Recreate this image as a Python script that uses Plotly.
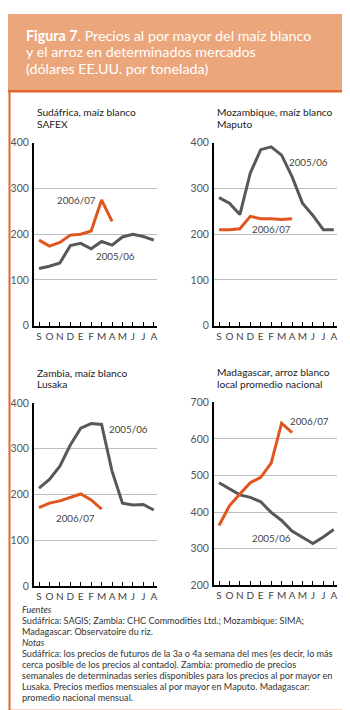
import plotly.graph_objects as go

# month ticks (Sept to Aug)
months = ["S", "O", "N", "D", "E", "F", "M", "A", "M", "J", "J", "A"]

# Sudáfrica, maíz blanco SAFEX
sa_0506 = [125, 130, 137, 175, 180, 168, 184, 176, 194, 200, 195, 187]
sa_0607 = [187, 174, 182, 198, 200, 207, 275, 228]

# Mozambique, maíz blanco Maputo
mz_0506 = [280, 268, 243, 334, 385, 391, 373, 326, 268, 241, 210, 210]
mz_0607 = [210, 210, 212, 239, 234, 234, 232, 234]

# Zambia, maíz blanco Lusaka
zm_0506 = [214, 233, 262, 308, 345, 355, 353, 251, 181, 177, 178, 166]
zm_0607 = [171, 181, 186, 194, 201, 188, 168]

# Madagascar, arroz blanco local promedio nacional
mg_0506 = [480, 464, 447, 440, 428, 399, 377, 348, 332, 314, 332, 352]
mg_0607 = [363, 417, 449, 480, 495, 534, 643, 617]

W, H = 350, 710
GREY = "#58585a"
ORANGE = "#e0561f"
BORDER = "#e3672b"
FONT = "Lato"


def px(x):
    return x / W


def py(y):
    return 1 - y / H


fig = go.Figure()

panels = [
    # series 05/06, series 06/07, title lines, y range, x domain px, y domain px, labels
    (sa_0506, sa_0607, ["Sudáfrica, maíz blanco", "SAFEX"], [0, 400], (26, 149), (317, 131),
     [(3.6, 275, "2006/07"), (7.3, 153, "2005/06")]),
    (mz_0506, mz_0607, ["Mozambique, maíz blanco", "Maputo"], [0, 400], (206, 329), (317, 131),
     [(8.6, 357, "2005/06"), (5.05, 212, "2006/07")]),
    (zm_0506, zm_0607, ["Zambia, maíz blanco", "Lusaka"], [0, 400], (26, 149), (581.7, 395.7),
     [(8.55, 344, "2005/06"), (3.5, 149, "2006/07")]),
    (mg_0506, mg_0607, ["Madagascar, arroz blanco", "local promedio nacional"], [200, 700], (206, 329), (581, 395),
     [(8.67, 649, "2006/07"), (5.0, 330, "2005/06")]),
]

annotations = []
for n, (s1, s2, title, yr, xd, yd, labels) in enumerate(panels, start=1):
    xa = "x" if n == 1 else f"x{n}"
    ya = "y" if n == 1 else f"y{n}"
    fig.add_trace(go.Scatter(x=list(range(len(s1))), y=s1, mode="lines",
                             line=dict(color=GREY, width=3), xaxis=xa, yaxis=ya,
                             showlegend=False, hoverinfo="skip"))
    fig.add_trace(go.Scatter(x=list(range(len(s2))), y=s2, mode="lines",
                             line=dict(color=ORANGE, width=3), xaxis=xa, yaxis=ya,
                             showlegend=False, hoverinfo="skip"))
    xkey = "xaxis" if n == 1 else f"xaxis{n}"
    ykey = "yaxis" if n == 1 else f"yaxis{n}"
    fig.update_layout(**{
        xkey: dict(domain=[px(xd[0]), px(xd[1])], anchor=ya, range=[-0.48, 11.31],
                   tickvals=list(range(12)), ticktext=months, ticks="inside", ticklen=4,
                   tickwidth=1.3, tickcolor="black", showline=True, linecolor="black",
                   linewidth=2, showgrid=False, zeroline=False,
                   tickfont=dict(family=FONT, size=10, color="#444")),
        ykey: dict(domain=[py(yd[0]), py(yd[1])], anchor=xa, range=yr,
                   tickvals=list(range(yr[0], yr[1] + 1, 100)), showline=True,
                   linecolor="black", linewidth=2, showgrid=True, gridcolor="#bdbdbd",
                   gridwidth=1, zeroline=False, ticks="", ticklabelstandoff=1,
                   tickfont=dict(family=FONT, size=10.5, color="#555")),
    })
    # panel title
    for i, line in enumerate(title):
        annotations.append(dict(text=line, x=px(xd[0] + 1), y=py(yd[1] - 31 + 12 * i),
                                xref="paper", yref="paper", xanchor="left", yanchor="middle",
                                showarrow=False, font=dict(family=FONT, size=10.2, color="#222")))
    for lx, ly, lt in labels:
        annotations.append(dict(text=lt, x=lx, y=ly, xref=xa, yref=ya, showarrow=False,
                                xanchor="center", yanchor="middle",
                                font=dict(family=FONT, size=9.8, color="#444")))

# header
header = [("<b>Figura 7</b>. Precios al por mayor del maíz blanco", 22),
          ("y el arroz en determinados mercados", 38.5),
          ("(dólares EE.UU. por tonelada)", 55)]
for t, y in header:
    annotations.append(dict(text=t, x=px(16), y=py(y), xref="paper", yref="paper",
                            xanchor="left", yanchor="middle", showarrow=False,
                            font=dict(family=FONT, size=14.3, color="white")))

footer = [("<i>Fuentes</i>", 605.7),
          ("Sudáfrica: SAGIS; Zambia: CHC Commodities Ltd.; Mozambique: SIMA;", 617.3),
          ("Madagascar: Observatoire du riz.", 628.3),
          ("<i>Notas</i>", 639),
          ("Sudáfrica: los precios de futuros de la 3a o 4a semana del mes (es decir, lo más", 650.7),
          ("cerca posible de los precios al contado). Zambia: promedio de precios", 661.7),
          ("semanales de determinadas series disponibles para los precios al por mayor en", 673),
          ("Lusaka. Precios medios mensuales al por mayor en Maputo. Madagascar:", 683.7),
          ("promedio nacional mensual.", 695)]
for t, y in footer:
    annotations.append(dict(text=t, x=px(12), y=py(y), xref="paper", yref="paper",
                            xanchor="left", yanchor="middle", showarrow=False,
                            font=dict(family=FONT, size=9.1, color="#333")))

shapes = [
    dict(type="rect", xref="paper", yref="paper", x0=0, x1=1, y0=py(78), y1=1,
         fillcolor="#eba67c", line=dict(width=0), layer="below"),
    dict(type="line", xref="paper", yref="paper", x0=0, x1=1, y0=py(78.5), y1=py(78.5),
         line=dict(color=BORDER, width=2.5)),
    dict(type="line", xref="paper", yref="paper", x0=px(1.5), x1=px(1.5), y0=py(78), y1=py(708.8),
         line=dict(color=BORDER, width=2)),
    dict(type="line", xref="paper", yref="paper", x0=px(347), x1=px(347), y0=py(78), y1=py(708.8),
         line=dict(color=BORDER, width=2)),
    dict(type="line", xref="paper", yref="paper", x0=px(0.5), x1=px(348), y0=py(708.8), y1=py(708.8),
         line=dict(color=BORDER, width=2)),
]

fig.update_layout(width=W, height=H, margin=dict(l=0, r=0, t=0, b=0),
                  paper_bgcolor="white", plot_bgcolor="white",
                  annotations=annotations, shapes=shapes, showlegend=False)

fig.write_html("out.html")
